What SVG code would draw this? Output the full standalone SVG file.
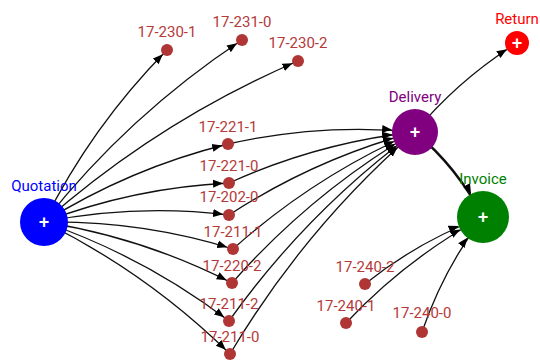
<svg xmlns="http://www.w3.org/2000/svg" width="540" height="361" viewBox="0 0 540 361">
<style>
.e{fill:none;stroke:#111;stroke-width:1.3}
.e6{marker-end:url(#a6)}
.eD{marker-end:url(#aD)}
.eI{marker-end:url(#aI)}
.eR{marker-end:url(#aR)}
.s{fill:#b03535}
.sl{font-family:Roboto,"Liberation Sans",sans-serif;font-size:15px;fill:#b53a3a;text-anchor:middle}
.bl{font-family:Roboto,"Liberation Sans",sans-serif;font-size:15px;text-anchor:middle}
.plus{font-family:"Liberation Sans",Arial,sans-serif;font-size:18px;font-weight:bold;fill:#fff;text-anchor:middle}
</style>
<defs>
<marker id="a6" viewBox="0 -5 10 10" refX="16" refY="0" markerWidth="10" markerHeight="10" markerUnits="userSpaceOnUse" orient="auto"><path d="M0,-4L10,0L0,4Z" fill="#000"/></marker>
<marker id="aD" viewBox="0 -5 10 10" refX="33" refY="0" markerWidth="10" markerHeight="10" markerUnits="userSpaceOnUse" orient="auto"><path d="M0,-4L10,0L0,4Z" fill="#000"/></marker>
<marker id="aI" viewBox="0 -5 10 10" refX="36" refY="0" markerWidth="10" markerHeight="10" markerUnits="userSpaceOnUse" orient="auto"><path d="M0,-4L10,0L0,4Z" fill="#000"/></marker>
<marker id="aR" viewBox="0 -5 10 10" refX="22" refY="0" markerWidth="10" markerHeight="10" markerUnits="userSpaceOnUse" orient="auto"><path d="M0,-4L10,0L0,4Z" fill="#000"/></marker>
</defs>
<g id="connectors">
<path class="e e6" d="M44,222 Q91.7,126.2 167,50"/>
<path class="e e6" d="M44,222 Q128.4,115.2 242,40"/>
<path class="e e6" d="M44,222 Q158.1,121.2 298,61"/>
<path class="e e6" d="M44,222 Q129.8,168.3 228,144"/>
<path class="e e6" d="M44,222 Q133.4,187.7 229,183"/>
<path class="e e6" d="M44,222 Q135.9,203.7 229,215"/>
<path class="e e6" d="M44,222 Q140.7,220.4 233,249"/>
<path class="e e6" d="M44,222 Q142.9,237.5 232,283"/>
<path class="e e6" d="M44,222 Q144.4,256.7 229,321"/>
<path class="e e6" d="M44,222 Q147.6,273.1 230,354"/>
<path class="e eD" d="M228,144 Q320.5,123 415,132"/>
<path class="e eD" d="M229,183 Q317.9,142.6 415,132"/>
<path class="e eD" d="M229,215 Q315.4,158.6 415,132"/>
<path class="e eD" d="M233,249 Q314.6,175.9 415,132"/>
<path class="e eD" d="M232,283 Q311.4,192.9 415,132"/>
<path class="e eD" d="M229,321 Q306.9,211.6 415,132"/>
<path class="e eD" d="M230,354 Q304.7,228.2 415,132"/>
<path class="e eI" d="M365,284 Q418.6,241.1 483,217"/>
<path class="e eI" d="M346,323 Q406,259 483,217"/>
<path class="e eI" d="M422,332 Q443.3,269.6 483,217"/>
<path class="e eR" d="M415,132 Q458.9,79.3 517,43"/>
<path class="e eI" style="stroke-width:2.5" d="M415,132 Q457.5,167.7 483,217"/>
</g>
<g id="n-quotation"><circle cx="44" cy="222" r="24" fill="#0000ff"/><text class="plus" x="44" y="228">+</text><text class="bl" x="44" y="191" fill="#0000ff">Quotation</text></g>
<g id="n-delivery"><circle cx="415" cy="132" r="23" fill="#800080"/><text class="plus" x="415" y="138">+</text><text class="bl" x="415" y="102" fill="#800080">Delivery</text></g>
<g id="n-invoice"><circle cx="483" cy="217" r="26" fill="#008000"/><text class="plus" x="483" y="223">+</text><text class="bl" x="483" y="184" fill="#008000">Invoice</text></g>
<g id="n-return"><circle cx="517" cy="43" r="12" fill="#ff0000"/><text class="plus" x="517" y="49">+</text><text class="bl" x="517" y="24" fill="#ff0000">Return</text></g>
<g id="n-17-230-1"><circle class="s" cx="167" cy="50" r="6"/><text class="sl" x="167" y="37">17-230-1</text></g>
<g id="n-17-231-0"><circle class="s" cx="242" cy="40" r="6"/><text class="sl" x="242" y="27">17-231-0</text></g>
<g id="n-17-230-2"><circle class="s" cx="298" cy="61" r="6"/><text class="sl" x="298" y="48">17-230-2</text></g>
<g id="n-17-221-1"><circle class="s" cx="228" cy="144" r="6"/><text class="sl" x="228" y="132">17-221-1</text></g>
<g id="n-17-221-0"><circle class="s" cx="229" cy="183" r="6"/><text class="sl" x="229" y="171">17-221-0</text></g>
<g id="n-17-202-0"><circle class="s" cx="229" cy="215" r="6"/><text class="sl" x="229" y="202">17-202-0</text></g>
<g id="n-17-211-1"><circle class="s" cx="233" cy="249" r="6"/><text class="sl" x="233" y="237">17-211-1</text></g>
<g id="n-17-220-2"><circle class="s" cx="232" cy="283" r="6"/><text class="sl" x="232" y="271">17-220-2</text></g>
<g id="n-17-211-2"><circle class="s" cx="229" cy="321" r="6"/><text class="sl" x="229" y="309">17-211-2</text></g>
<g id="n-17-211-0"><circle class="s" cx="230" cy="354" r="6"/><text class="sl" x="230" y="342">17-211-0</text></g>
<g id="n-17-240-2"><circle class="s" cx="365" cy="284" r="6"/><text class="sl" x="365" y="272">17-240-2</text></g>
<g id="n-17-240-1"><circle class="s" cx="346" cy="323" r="6"/><text class="sl" x="346" y="311">17-240-1</text></g>
<g id="n-17-240-0"><circle class="s" cx="422" cy="332" r="6"/><text class="sl" x="422" y="318">17-240-0</text></g>
</svg>
